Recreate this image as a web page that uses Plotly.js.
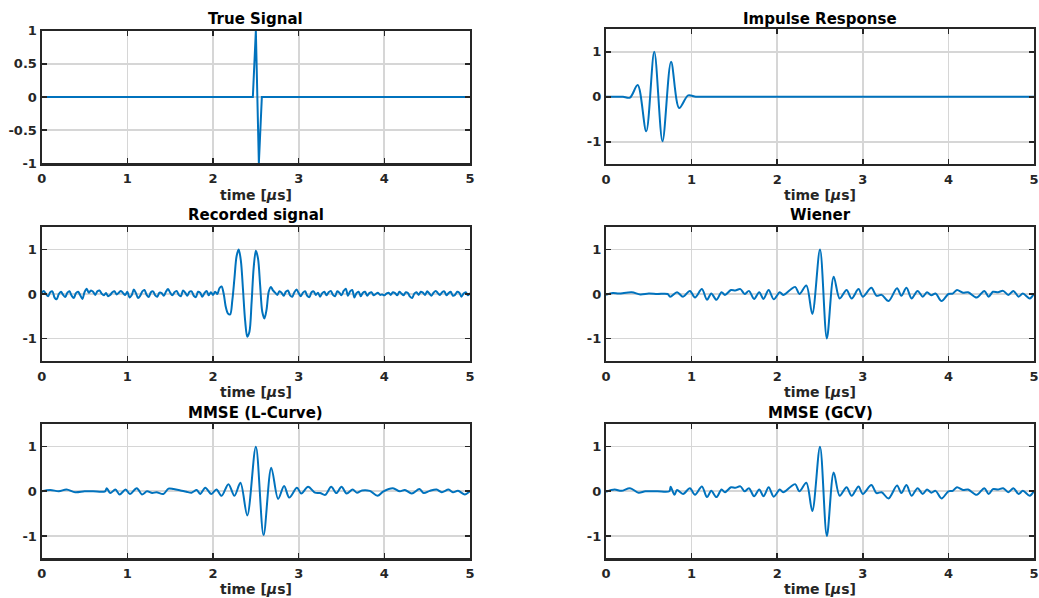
<!DOCTYPE html>
<html>
<head>
<meta charset="utf-8">
<script src="https://cdn.plot.ly/plotly-3.0.1.min.js"></script>
<style>html,body{margin:0;padding:0;background:#fff;}#chart{width:1039px;height:598px;}</style>
</head>
<body>
<div id="chart"></div>
<script>
// ---- Data ----
const titles = ["True Signal", "Impulse Response", "Recorded signal", "Wiener", "MMSE (L-Curve)", "MMSE (GCV)"];
const xTickVals = [0, 1, 2, 3, 4, 5];

const trueT = [0, 2.465, 2.5, 2.535, 2.57, 5];
const trueY = [0, 0, 1, -1, 0, 0];

const impT = [0, 0.15, 0.2, 0.28, 0.37, 0.47, 0.564, 0.66, 0.76, 0.855, 0.96, 1.05, 1.2, 5];
const impY = [0, 0, 0, -0.02, 0.26, -0.77, 1.0, -0.99, 0.78, -0.25, 0.03, 0, 0, 0];

const recDt = 0.025;
const recY = [
  0.03,0.07,0.00,-0.05,0.04,0.06,-0.08,-0.12,0.00,0.05,
  -0.02,-0.07,0.03,0.06,-0.04,-0.09,0.02,0.05,-0.03,-0.11,
  0.04,0.12,0.03,0.08,0.05,-0.02,0.06,0.08,0.01,-0.03,
  0.02,-0.05,-0.02,0.04,0.06,-0.01,0.03,0.07,0.02,-0.02,
  0.05,-0.08,-0.03,0.10,0.02,-0.09,-0.04,0.06,0.09,-0.02,
  -0.07,0.04,0.06,-0.03,-0.06,0.03,0.02,-0.04,0.05,0.11,
  0.03,-0.03,0.04,0.07,-0.02,-0.05,0.08,0.03,-0.04,0.05,
  0.06,-0.04,-0.07,0.05,0.03,-0.06,0.02,0.07,-0.03,0.04,
  -0.02,0.05,0.00,0.13,0.17,0.00,-0.30,-0.44,-0.46,-0.15,
  0.35,0.85,1.00,0.75,0.10,-0.60,-0.96,-0.85,-0.20,0.60,
  0.97,0.80,0.20,-0.40,-0.55,-0.35,0.05,0.16,0.08,0.03,
  -0.02,0.06,0.03,-0.04,0.05,0.08,-0.03,-0.06,0.04,0.10,
  0.02,-0.05,0.03,0.06,-0.04,-0.07,0.04,0.06,-0.02,0.03,
  -0.06,0.02,0.05,-0.03,0.04,0.07,-0.02,-0.05,0.06,0.03,
  -0.03,0.07,0.12,-0.04,0.06,0.09,-0.08,0.02,0.05,-0.05,
  0.03,0.05,-0.04,0.02,0.04,-0.03,0.00,0.03,-0.02,-0.01,
  -0.03,0.01,0.03,-0.02,0.04,0.02,-0.03,0.05,0.01,-0.03,
  0.04,0.02,-0.06,-0.09,0.01,0.04,-0.02,0.05,0.03,-0.02,
  0.06,0.01,-0.04,0.03,0.07,0.02,-0.02,0.04,0.06,-0.03,
  0.02,0.05,-0.04,-0.02,0.05,0.03,-0.06,0.01,0.04,-0.03,
  0.02
];
const recT = recY.map((_, i) => +(i * recDt).toFixed(4));

const wienT = [0,0.08,0.15,0.3,0.4,0.5,0.6,0.72,0.75,0.83,0.9,0.98,1.04,1.12,1.18,1.23,1.29,1.35,1.39,1.46,1.51,1.57,1.62,1.67,1.73,1.79,1.84,1.9,1.96,2.03,2.07,2.15,2.21,2.26,2.34,2.41,2.5,2.58,2.66,2.73,2.81,2.87,2.95,3.0,3.1,3.16,3.22,3.3,3.4,3.45,3.51,3.57,3.64,3.7,3.75,3.8,3.85,3.92,4.0,4.05,4.1,4.17,4.23,4.33,4.42,4.47,4.52,4.58,4.64,4.7,4.76,4.82,4.87,4.95,5.0];
const wienY = [-0.02,0.02,0.01,0.04,-0.01,0.01,0.0,0.0,-0.06,0.04,-0.06,0.07,-0.08,0.11,-0.13,0.01,-0.13,0.04,-0.02,0.09,0.08,0.11,0.0,0.07,-0.11,0.04,-0.11,0.09,-0.12,0.04,-0.02,0.09,0.16,0.0,0.19,-0.45,1.0,-1.0,0.39,-0.1,0.09,-0.1,0.11,-0.06,0.14,-0.04,-0.02,-0.16,0.13,-0.04,0.14,-0.1,0.07,-0.06,0.04,-0.03,0.01,-0.16,0.0,0.01,0.09,0.03,0.04,-0.08,0.07,-0.06,0.05,0.04,0.07,-0.02,0.07,-0.06,0.01,-0.1,0.01];

const lcT = [0,0.1,0.2,0.29,0.39,0.5,0.6,0.74,0.76,0.8,0.86,0.91,0.98,1.03,1.11,1.17,1.23,1.29,1.34,1.42,1.48,1.54,1.62,1.69,1.75,1.81,1.85,1.91,1.98,2.04,2.1,2.18,2.25,2.32,2.40,2.5,2.59,2.68,2.76,2.83,2.89,2.98,3.03,3.11,3.19,3.25,3.31,3.38,3.44,3.5,3.56,3.63,3.68,3.74,3.83,3.92,3.99,4.1,4.18,4.24,4.32,4.41,4.46,4.53,4.61,4.67,4.75,4.8,4.86,4.94,5.0];
const lcY = [0.0,0.03,0.0,0.04,-0.02,0.0,0.0,0.0,0.07,-0.04,0.04,-0.07,0.04,-0.06,0.07,-0.07,0.0,-0.04,-0.02,-0.06,0.06,0.05,0.02,-0.01,-0.03,0.03,-0.06,0.08,-0.06,0.04,-0.10,0.16,-0.10,0.19,-0.54,1.0,-0.98,0.53,-0.17,0.12,-0.14,0.08,-0.05,0.10,-0.03,-0.04,-0.08,0.10,-0.04,0.10,-0.05,0.04,-0.03,0.02,0.01,-0.10,0.0,0.07,0.0,0.03,-0.05,0.05,-0.04,0.01,0.04,-0.02,0.04,-0.02,0.01,-0.07,0.0];

const gcvT = [0,0.1,0.18,0.28,0.38,0.46,0.6,0.74,0.755,0.8,0.83,0.9,0.98,1.04,1.12,1.18,1.23,1.29,1.35,1.39,1.46,1.51,1.57,1.62,1.67,1.73,1.79,1.84,1.9,1.96,2.03,2.07,2.15,2.21,2.26,2.34,2.41,2.5,2.58,2.66,2.73,2.81,2.87,2.95,3.0,3.1,3.16,3.22,3.3,3.4,3.45,3.51,3.57,3.64,3.7,3.75,3.8,3.85,3.92,4.0,4.05,4.1,4.17,4.23,4.33,4.42,4.47,4.52,4.58,4.64,4.7,4.76,4.82,4.87,4.95,5.0];
const gcvY = [-0.01,0.04,0.01,0.07,-0.03,0.0,0.0,0.0,0.10,-0.08,0.03,-0.06,0.07,-0.08,0.11,-0.13,0.01,-0.13,0.04,-0.02,0.09,0.08,0.11,0.0,0.07,-0.11,0.04,-0.11,0.09,-0.12,0.04,-0.02,0.09,0.16,0.0,0.19,-0.44,1.0,-1.0,0.42,-0.1,0.09,-0.1,0.11,-0.06,0.14,-0.04,-0.02,-0.16,0.13,-0.04,0.14,-0.1,0.07,-0.06,0.04,-0.03,0.01,-0.16,0.0,0.01,0.09,0.03,0.04,-0.08,0.07,-0.06,0.05,0.04,0.07,-0.02,0.07,-0.06,0.01,-0.1,0.01];

// ---- Figure ----
const lineColor = '#0072BD';
const series = [
  {x: trueT, y: trueY, shape: 'linear'},
  {x: impT, y: impY, shape: 'spline'},
  {x: recT, y: recY, shape: 'spline'},
  {x: wienT, y: wienY, shape: 'spline'},
  {x: lcT, y: lcY, shape: 'spline'},
  {x: gcvT, y: gcvY, shape: 'spline'}
];
const traces = series.map((s, i) => ({
  type: 'scatter', mode: 'lines', x: s.x, y: s.y,
  xaxis: 'x' + (i === 0 ? '' : i + 1), yaxis: 'y' + (i === 0 ? '' : i + 1),
  line: {color: lineColor, width: 2, shape: s.shape, smoothing: 0.9},
  hoverinfo: 'skip', showlegend: false
}));

const W = 1039, H = 598;
const colX = [[41.7 / W, 470 / W], [606 / W, 1034 / W]];
const rowY = [
  [[1 - 163.3 / H, 1 - 30.7 / H], [1 - 164.2 / H, 1 - 29.3 / H]],
  [[1 - 360.7 / H, 1 - 227.3 / H], [1 - 360.7 / H, 1 - 227.3 / H]],
  [[1 - 558.3 / H, 1 - 424.3 / H], [1 - 558.3 / H, 1 - 424.3 / H]]
];
const tickFont = {family: 'DejaVu Sans', size: 13, color: '#262626', weight: 'bold'};
const axisCommon = {
  showline: true, linecolor: '#262626', linewidth: 2.2, mirror: 'ticks',
  ticks: 'inside', ticklen: 5, tickwidth: 1.6, tickcolor: '#262626',
  showgrid: true, gridcolor: '#d6d6d6', gridwidth: 1.7, zeroline: false,
  tickfont: tickFont, fixedrange: true
};
const layout = {
  width: W, height: H, margin: {l: 0, r: 0, t: 0, b: 0},
  paper_bgcolor: '#fff', plot_bgcolor: '#fff', showlegend: false,
  annotations: []
};
const titleY = [18.5, 215.5, 413];
const xlabY = [195.5, 392, 589];
for (let i = 0; i < 6; i++) {
  const r = Math.floor(i / 2), c = i % 2;
  const sx = i === 0 ? '' : i + 1;
  layout['xaxis' + sx] = Object.assign({}, axisCommon, {
    domain: colX[c], range: [0, 5], tickvals: xTickVals, ticktext: xTickVals.map(String),
    anchor: 'y' + sx, ticklabelstandoff: 2
  });
  const yTicks = i === 0 ? [-1, -0.5, 0, 0.5, 1] : [-1, 0, 1];
  layout['yaxis' + sx] = Object.assign({}, axisCommon, {
    domain: rowY[r][c], range: i === 0 ? [-1, 1] : [-1.5, 1.5],
    tickvals: yTicks, ticktext: yTicks.map(String), anchor: 'x' + sx
  });
  const cx = (colX[c][0] + colX[c][1]) / 2;
  layout.annotations.push({
    xref: 'paper', yref: 'paper', x: cx, y: 1 - titleY[r] / H, xanchor: 'center', yanchor: 'middle',
    text: titles[i], showarrow: false,
    font: {family: 'DejaVu Sans', size: 15, color: '#000', weight: 'bold'}
  });
  layout.annotations.push({
    xref: 'paper', yref: 'paper', x: cx, y: 1 - xlabY[r] / H, xanchor: 'center', yanchor: 'middle',
    text: 'time [<i>μ</i>s]', showarrow: false,
    font: {family: 'DejaVu Sans', size: 14, color: '#262626', weight: 'bold'}
  });
}
Plotly.newPlot('chart', traces, layout, {staticPlot: true, displayModeBar: false});
</script>
</body>
</html>
